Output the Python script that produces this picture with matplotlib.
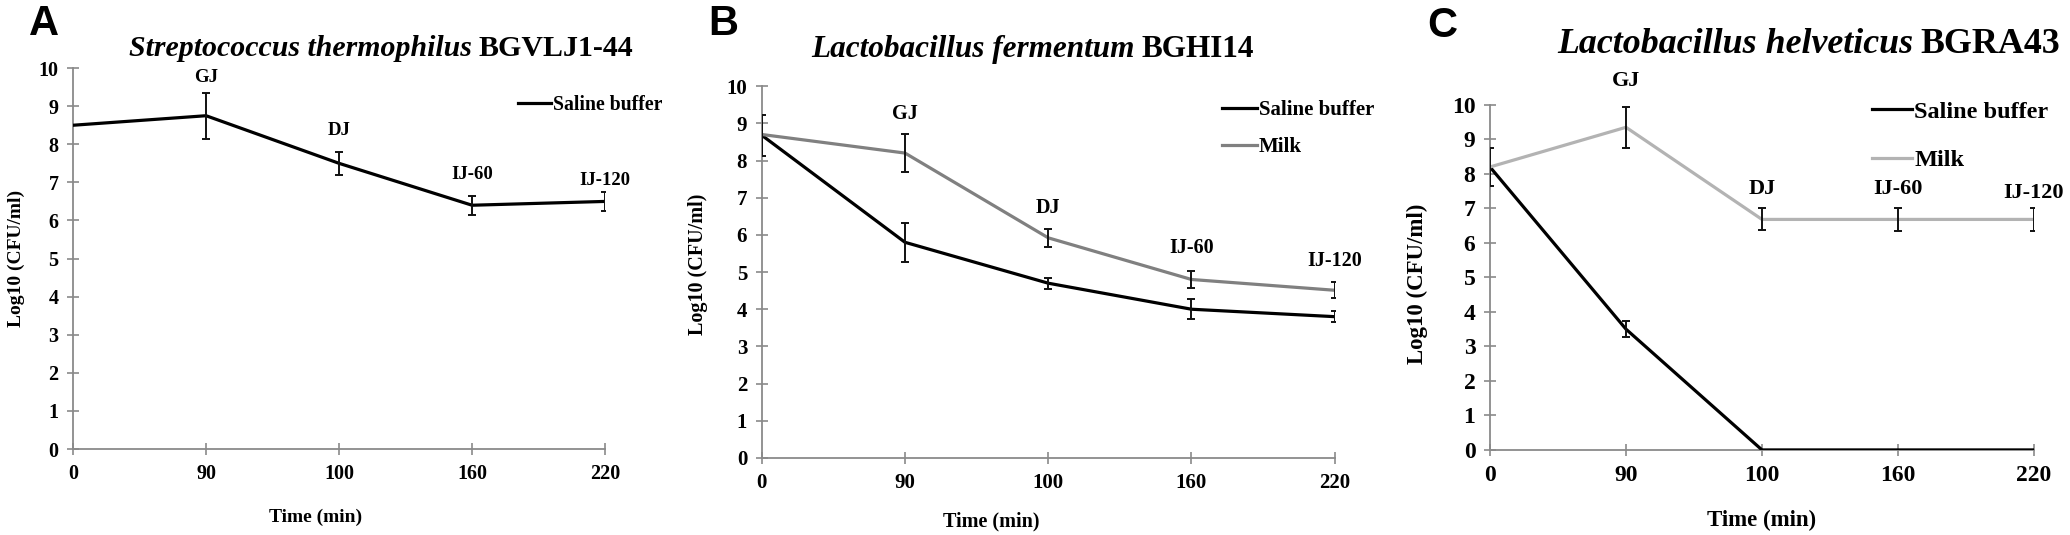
import numpy as np
import matplotlib
matplotlib.use('Agg')
import matplotlib.pyplot as plt

plt.rcParams['font.family'] = ['Liberation Serif', 'DejaVu Serif']
plt.rcParams['font.weight'] = 'bold'

# shared x categories and stage labels
times = ['0', '90', '100', '160', '220']
stages = ['', 'GJ', 'DJ', 'IJ-60', 'IJ-120']

# panel A - S. thermophilus, saline only
a_saline = [8.5, 8.75, 7.5, 6.4, 6.5]
a_saline_err = [np.nan, 0.6, 0.3, 0.25, 0.25]
a_stage_y = [np.nan, 9.75, 8.36, 7.22, 7.04]

# panel B - L. fermentum
b_saline = [8.68, 5.8, 4.7, 4.0, 3.8]
b_saline_err = [0.55, 0.53, 0.15, 0.27, 0.15]
b_milk = [8.7, 8.2, 5.92, 4.8, 4.51]
b_milk_err = [np.nan, 0.5, 0.25, 0.24, 0.22]
b_stage_y = [np.nan, 9.26, 6.72, 5.65, 5.30]

# panel C - L. helveticus
c_saline = [8.2, 3.5, 0.0, 0.0, 0.0]
c_saline_err = [0.55, 0.24, np.nan, np.nan, np.nan]
c_milk = [8.2, 9.35, 6.68, 6.68, 6.68]
c_milk_err = [np.nan, 0.6, 0.32, 0.34, 0.33]
c_stage_y = [np.nan, 10.7, 7.55, 7.55, 7.45]

AXIS_GRAY = '#8a8a8a'

fig = plt.figure(figsize=(20.7, 5.35), dpi=100)


def style_axes(ax, tick_size):
    ax.set_xlim(0, 4)
    ax.set_ylim(0, 10)
    ax.set_yticks(range(0, 11))
    for s in ['top', 'right']:
        ax.spines[s].set_visible(False)
    for s in ['left', 'bottom']:
        ax.spines[s].set_color(AXIS_GRAY)
        ax.spines[s].set_linewidth(1.3)
    ax.tick_params(direction='inout', length=9, width=1.2, color=AXIS_GRAY,
                   labelsize=tick_size, pad=6)
    for lab in ax.get_xticklabels() + ax.get_yticklabels():
        lab.set_fontweight('bold')


def add_series(ax, vals, errs, color, label):
    ax.plot(times, vals, color=color, lw=2.3, label=label, zorder=3)
    ax.errorbar(times, vals, yerr=errs, fmt='none', ecolor='#111111',
                elinewidth=1.4, capsize=3, capthick=1.4, zorder=4)


def add_stages(ax, ys, size):
    for t, s, y in zip(times, stages, ys):
        if s:
            ax.text(t, y, s, ha='center', va='center', fontsize=size,
                    fontweight='bold', clip_on=False)


def add_labels(ax, size, xpos, ypos):
    ax.set_xlabel('Time (min)', fontsize=size, fontweight='bold')
    ax.set_ylabel('Log10 (CFU/ml)', fontsize=size, fontweight='bold')
    ax.xaxis.set_label_coords(*xpos)
    ax.yaxis.set_label_coords(*ypos)


def add_title(x, y, species, strain, size):
    t1 = fig.text(x, y, species, fontsize=size, fontstyle='italic',
                  fontweight='bold', va='baseline')
    plt.annotate(strain, xy=(1, 0), xycoords=t1, xytext=(5, 0),
                 textcoords='offset points', fontsize=size,
                 fontweight='bold', va='bottom', ha='left')


def panel_letter(x, y, letter):
    fig.text(x, y, letter, fontsize=30, fontweight='bold',
             family='Liberation Sans', va='center', ha='left')


# ---- A ----
axA = fig.add_axes([0.0353, 0.1607, 0.257, 0.712])
add_series(axA, a_saline, a_saline_err, 'black', 'Saline buffer')
style_axes(axA, 14.5)
add_stages(axA, a_stage_y, 13.5)
add_labels(axA, 14, (0.455, -0.157), (-0.09, 0.5))
axA.legend(loc='upper left', bbox_to_anchor=(0.836, 0.929), frameon=False,
           handlelength=1.67, handletextpad=0.1, borderpad=0,
           borderaxespad=0, prop={'weight': 'bold', 'size': 14.2})

# ---- B ----
axB = fig.add_axes([0.368, 0.144, 0.2768, 0.695])
add_series(axB, b_saline, b_saline_err, 'black', 'Saline buffer')
add_series(axB, b_milk, b_milk_err, '#808080', 'Milk')
style_axes(axB, 15)
add_stages(axB, b_stage_y, 14.5)
add_labels(axB, 14.5, (0.40, -0.145), (-0.094, 0.52))
axB.legend(loc='upper left', bbox_to_anchor=(0.803, 0.962), frameon=False,
           handlelength=1.68, handletextpad=0.1, borderpad=0, labelspacing=0.8,
           borderaxespad=0, prop={'weight': 'bold', 'size': 15})

# ---- C ----
axC = fig.add_axes([0.7198, 0.159, 0.2628, 0.645])
add_series(axC, c_saline, c_saline_err, 'black', 'Saline buffer')
add_series(axC, c_milk, c_milk_err, '#b3b3b3', 'Milk')
style_axes(axC, 17)
add_stages(axC, c_stage_y, 16)
add_labels(axC, 16.5, (0.50, -0.174), (-0.114, 0.48))
axC.legend(loc='upper left', bbox_to_anchor=(0.702, 1.012), frameon=False,
           handlelength=1.65, handletextpad=0.1, borderpad=0, labelspacing=1.1,
           borderaxespad=0, prop={'weight': 'bold', 'size': 17.5})

# titles and panel letters
add_title(129 / 2070, 1 - 56 / 535, 'Streptococcus thermophilus', 'BGVLJ1-44', 21.5)
add_title(811 / 2070, 1 - 57 / 535, 'Lactobacillus fermentum', 'BGHI14', 22.5)
add_title(1557 / 2070, 1 - 53 / 535, 'Lactobacillus helveticus', 'BGRA43', 25.8)
panel_letter(29 / 2070, 1 - 24 / 535, 'A')
panel_letter(708 / 2070, 1 - 24 / 535, 'B')
panel_letter(1427 / 2070, 1 - 26 / 535, 'C')

fig.savefig('out.png', dpi=100)
plt.close(fig)
